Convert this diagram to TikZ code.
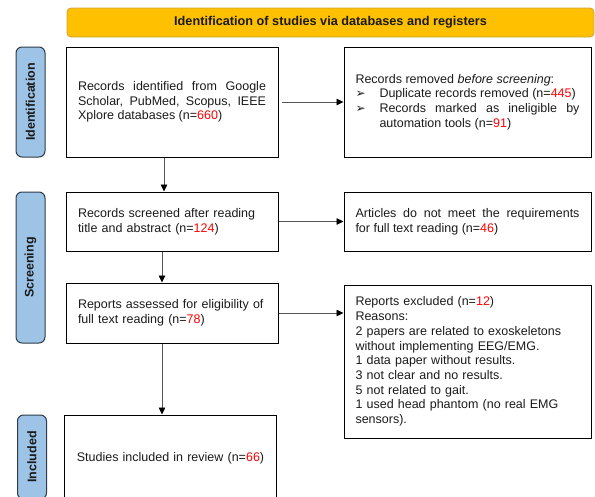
\documentclass[tikz,border=0pt]{standalone}
\usepackage{fontspec}
\setmainfont{Liberation Sans}
\newfontfamily\dejavu{DejaVu Sans}
\usetikzlibrary{arrows.meta}
\definecolor{bannerfill}{HTML}{FFC000}
\definecolor{bannerdraw}{HTML}{C9A43A}
\definecolor{sidefill}{HTML}{9DC3E6}
\definecolor{sidedraw}{HTML}{2F3B48}
\definecolor{numred}{HTML}{FF0000}
\definecolor{txt}{HTML}{1A1A1A}
\definecolor{linegray}{HTML}{555555}
\hyphenpenalty=10000\relax
\exhyphenpenalty=10000\relax
\newcommand\nr[1]{\textcolor{numred}{#1}}
\newcommand\arrowbullet{\makebox[24pt][l]{\dejavu\fontsize{12}{12}\selectfont ➢}}
\begin{document}
\begin{tikzpicture}[x=1pt,y=-1pt,
  box/.style={draw=black, line width=1pt, rectangle, inner ysep=0pt, text=txt,
    font=\fontsize{12.5}{14.7}\selectfont},
  side/.style={draw=sidedraw, fill=sidefill, line width=1pt, rounded corners=6pt,
    inner sep=0pt, minimum height=29pt, rotate=90, text=txt,
    font=\bfseries\fontsize{12.5}{14}\selectfont},
  banner/.style={draw=bannerdraw, fill=bannerfill, line width=0.8pt, rounded corners=4pt,
    inner sep=0pt, text=txt, font=\bfseries\fontsize{12.7}{14}\selectfont},
  conn/.style={draw=linegray, line width=0.8pt, -{Triangle[length=7pt,width=6.5pt,color=black]}}
]
\useasboundingbox (0,0) rectangle (595,496);
\clip (0,0) rectangle (595,496);

% banner
\node[banner, minimum width=527pt, minimum height=29pt] (ban) at (330.5,22.5)
  {Identification of studies via databases and registers};

% side labels
\node[side, minimum width=110pt] (sid) at (30.5,102) {Identification};
\node[side, minimum width=151pt] (sscr) at (30.5,267.5) {Screening};
\node[side, minimum width=84pt] (sinc) at (32,457) {Included};

% boxes
\node[box, minimum width=212pt, minimum height=110pt, text width=188pt, inner xsep=12pt, align=justify] (b1) at (172,102)
  {Records identified from Google Scholar, PubMed, Scopus, IEEE Xplore databases (n=\nr{660})};

\node[box, minimum width=247pt, minimum height=110pt, text width=224pt, inner xsep=11.5pt, align=justify] (b2) at (467.5,102)
  {\noindent Records removed \textit{before screening}:\par
   \noindent\hangindent=24pt\hangafter=1\arrowbullet Duplicate records removed (n=\nr{445})\par
   \noindent\hangindent=24pt\hangafter=1\arrowbullet Records marked as ineligible by\linebreak automation tools (n=\nr{91})\par};

\node[box, minimum width=212pt, minimum height=59pt, text width=188pt, inner xsep=12pt, align=left] (b3) at (172,221.5)
  {Records screened after reading\\title and abstract (n=\nr{124})};

\node[box, minimum width=247pt, minimum height=59pt, text width=224pt, inner xsep=11.5pt, align=justify] (b4) at (467.5,221.5)
  {Articles do not meet the requirements\linebreak for full text reading (n=\nr{46})};

\node[box, minimum width=212pt, minimum height=60pt, text width=188pt, inner xsep=12pt, align=left] (b5) at (172,313)
  {Reports assessed for eligibility of\\full text reading (n=\nr{78})};

\node[box, minimum width=247pt, minimum height=153pt, text width=224pt, inner xsep=11.5pt, align=left] (b6) at (467.5,361.5)
  {Reports excluded (n=\nr{12})\\
   Reasons:\\
   2 papers are related to exoskeletons\\
   without implementing EEG/EMG.\\
   1 data paper without results.\\
   3 not clear and no results.\\
   5 not related to gait.\\
   1 used head phantom (no real EMG\\
   sensors).};

\node[box, minimum width=212pt, minimum height=86pt, text width=200pt, inner xsep=6pt, align=center] (b7) at (170.5,458)
  {Studies included in review (n=\nr{66})};

% connectors
\draw[conn, shorten <=3pt] (b1.east) -- (b2.west);
\draw[conn] (b3.east) -- (b4.west);
\draw[conn] (b5.east) -- (b6.west |- b5.east);
\draw[conn] ([xshift=-8pt]b1.south) -- ([xshift=-8pt]b3.north);
\draw[conn] ([xshift=-10pt]b3.south) -- ([xshift=-10pt]b5.north);
\draw[conn] ([xshift=-10pt]b5.south) -- ([xshift=-8.5pt]b7.north);
\end{tikzpicture}
\end{document}
